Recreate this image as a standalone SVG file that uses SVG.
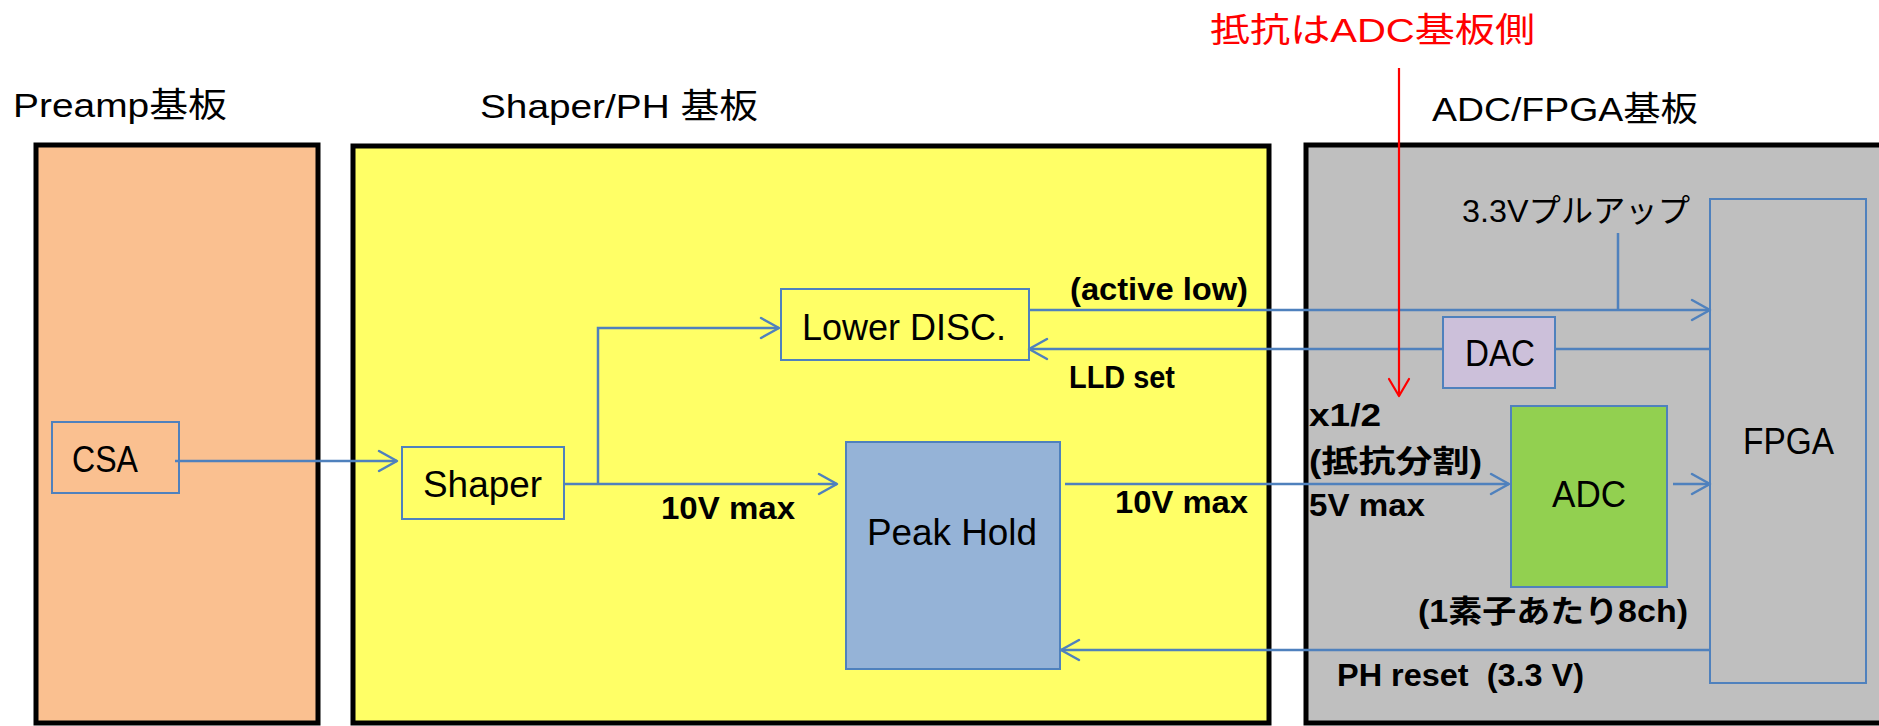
<svg xmlns="http://www.w3.org/2000/svg" width="1879" height="726" viewBox="0 0 1879 726">
<style>
text{font-family:"Liberation Sans","Noto Sans CJK JP",sans-serif;fill:#000}
.t{font-size:34px}
.n{font-size:37px}
.b{font-size:31px;font-weight:bold}
.red{fill:#FF0000}
.board{stroke:#000;stroke-width:5}
.blk{stroke:#4F81BD;stroke-width:2}
.c{fill:none;stroke:#4F81BD;stroke-width:2.5}
</style>
<defs>
<marker id="ah" markerUnits="userSpaceOnUse" markerWidth="26" markerHeight="26" viewBox="-22 -13 26 26" refX="0" refY="0" orient="auto">
<path d="M-18,-10 L0,0 L-18,10" fill="none" stroke="#4F81BD" stroke-width="2.5" stroke-linecap="round" stroke-linejoin="round"/>
</marker>
<marker id="ahr" markerUnits="userSpaceOnUse" markerWidth="26" markerHeight="26" viewBox="-22 -13 26 26" refX="0" refY="0" orient="auto">
<path d="M-17,-10 L0,0 L-17,10" fill="none" stroke="#FF0000" stroke-width="2.2" stroke-linecap="round" stroke-linejoin="round"/>
</marker>
</defs>
<rect width="1879" height="726" fill="#fff"/>

<g id="board-preamp">
<rect class="board" x="36" y="145" width="282" height="578" fill="#FAC090"/>
<text class="t" x="13" y="117" textLength="214" lengthAdjust="spacingAndGlyphs">Preamp基板</text>
</g>
<g id="board-shaper">
<rect class="board" x="353" y="146" width="916" height="577" fill="#FFFF66"/>
<text class="t" x="480" y="118" textLength="278" lengthAdjust="spacingAndGlyphs">Shaper/PH 基板</text>
</g>
<g id="board-adc">
<rect class="board" x="1306" y="145" width="600" height="578" fill="#BFBFBF"/>
<text class="t" x="1432" y="121" textLength="266" lengthAdjust="spacingAndGlyphs">ADC/FPGA基板</text>
</g>

<g id="note-red">
<text class="t red" x="1210" y="42" textLength="325" lengthAdjust="spacingAndGlyphs">抵抗はADC基板側</text>
</g>

<g id="csa">
<rect class="blk" x="52" y="422" width="127" height="71" fill="none"/>
<text class="n" x="72" y="472" textLength="66" lengthAdjust="spacingAndGlyphs">CSA</text>
</g>
<g id="shaper">
<rect class="blk" x="402" y="447" width="162" height="72" fill="none"/>
<text class="n" x="423" y="497" textLength="119" lengthAdjust="spacingAndGlyphs">Shaper</text>
</g>
<g id="lower-disc">
<rect class="blk" x="781" y="289" width="248" height="71" fill="none"/>
<text class="n" x="802" y="340" textLength="204" lengthAdjust="spacingAndGlyphs">Lower DISC.</text>
</g>
<g id="peak-hold">
<rect class="blk" x="846" y="442" width="214" height="227" fill="#95B3D7"/>
<text class="n" x="867" y="545" textLength="170" lengthAdjust="spacingAndGlyphs">Peak Hold</text>
</g>
<g id="dac">
<rect class="blk" x="1443" y="317" width="112" height="71" fill="#CCC0DA"/>
<text class="n" x="1465" y="366" textLength="70" lengthAdjust="spacingAndGlyphs">DAC</text>
</g>
<g id="adc">
<rect class="blk" x="1511" y="406" width="156" height="181" fill="#92D050"/>
<text class="n" x="1552" y="507" textLength="74" lengthAdjust="spacingAndGlyphs">ADC</text>
</g>
<g id="fpga">
<rect class="blk" x="1710" y="199" width="156" height="484" fill="none"/>
<text class="n" x="1743" y="454" textLength="91" lengthAdjust="spacingAndGlyphs">FPGA</text>
</g>

<g id="connectors">
<path class="c" d="M175,461 H397" marker-end="url(#ah)"/>
<path class="c" d="M564,484 H837" marker-end="url(#ah)"/>
<path class="c" d="M598,484 V328 H779" marker-end="url(#ah)"/>
<path class="c" d="M1065,484 H1509" marker-end="url(#ah)"/>
<path class="c" d="M1673,484 H1710" marker-end="url(#ah)"/>
<path class="c" d="M1029,310 H1710" marker-end="url(#ah)"/>
<path class="c" d="M1618,233 V310"/>
<path class="c" d="M1710,349 H1555"/>
<path class="c" d="M1443,349 H1029" marker-end="url(#ah)"/>
<path class="c" d="M1710,650 H1061" marker-end="url(#ah)"/>
<path d="M1399,68 V396" fill="none" stroke="#FF0000" stroke-width="2.2" marker-end="url(#ahr)"/>
</g>

<g id="labels">
<text style="font-size:32px" x="1462" y="222" textLength="228" lengthAdjust="spacingAndGlyphs">3.3Vプルアップ</text>
<text class="b" x="1070" y="300" textLength="178" lengthAdjust="spacingAndGlyphs">(active low)</text>
<text class="b" x="1069" y="388" textLength="106" lengthAdjust="spacingAndGlyphs">LLD set</text>
<text class="b" x="661" y="519" textLength="134" lengthAdjust="spacingAndGlyphs">10V max</text>
<text class="b" x="1115" y="513" textLength="133" lengthAdjust="spacingAndGlyphs">10V max</text>
<text class="b" x="1309" y="426" textLength="72" lengthAdjust="spacingAndGlyphs">x1/2</text>
<text class="b" x="1309" y="472" textLength="173" lengthAdjust="spacingAndGlyphs">(抵抗分割)</text>
<text class="b" x="1309" y="516" textLength="116" lengthAdjust="spacingAndGlyphs">5V max</text>
<text class="b" x="1418" y="622" textLength="270" lengthAdjust="spacingAndGlyphs">(1素子あたり8ch)</text>
<text class="b" x="1337" y="686" textLength="247" lengthAdjust="spacingAndGlyphs" xml:space="preserve">PH reset  (3.3 V)</text>
</g>
</svg>
